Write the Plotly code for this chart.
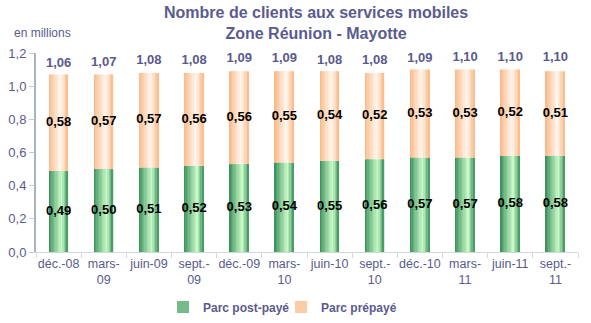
import plotly.graph_objects as go

categories = ["déc.-08", "mars-<br>09", "juin-09", "sept.-<br>09", "déc.-09", "mars-<br>10",
              "juin-10", "sept.-<br>10", "déc.-10", "mars-<br>11", "juin-11", "sept.-<br>11"]
postpaid = [0.49, 0.50, 0.51, 0.52, 0.53, 0.54, 0.55, 0.56, 0.57, 0.57, 0.58, 0.58]
prepaid = [0.58, 0.57, 0.57, 0.56, 0.56, 0.55, 0.54, 0.52, 0.53, 0.53, 0.52, 0.51]
totals = [1.06, 1.07, 1.08, 1.08, 1.09, 1.09, 1.08, 1.08, 1.09, 1.10, 1.10, 1.10]

BAR_W = 0.42
N = 14

def fmt(v):
    return ("%.2f" % v).replace(".", ",")

def lerp(c1, c2, t):
    return "rgb(%d,%d,%d)" % tuple(round(a + (b - a) * t) for a, b in zip(c1, c2))

def profile(t, peak):
    if t <= peak:
        return t / peak
    return (1 - t) / (1 - peak)

green_dark = (48, 136, 84)
green_light = (200, 250, 200)
orange_dark = (250, 180, 125)
orange_light = (255, 246, 238)

fig = go.Figure()

def add_gradient(values, base, dark, light, peak, name, legend_idx, legend_id):
    for i in range(N):
        t = (i + 0.5) / N
        p = profile(t, peak) ** 0.8
        col = lerp(dark, light, p)
        fig.add_trace(go.Bar(
            x=categories, y=values, base=base,
            offset=-BAR_W / 2 + i * BAR_W / N,
            width=BAR_W / N * 1.15 if i < N - 1 else BAR_W / N,
            marker=dict(color=col, line=dict(width=0)),
            name=name, legendgroup=name, legend=legend_id,
            showlegend=(i == legend_idx),
            hoverinfo="skip",
        ))

add_gradient(postpaid, None, green_dark, green_light, 0.68, "Parc post-payé", 3, "legend")
add_gradient(prepaid, postpaid, orange_dark, orange_light, 0.62, "Parc prépayé", 2, "legend2")

inner_font = dict(family="Liberation Sans", size=13, color="#000000", weight="bold")
fig.add_trace(go.Scatter(
    x=categories, y=[v / 2 for v in postpaid], mode="text",
    text=[fmt(v) for v in postpaid], textposition="middle center",
    textfont=inner_font, showlegend=False, hoverinfo="skip", cliponaxis=False))
fig.add_trace(go.Scatter(
    x=categories, y=[a + b / 2 for a, b in zip(postpaid, prepaid)], mode="text",
    text=[fmt(v) for v in prepaid], textposition="middle center",
    textfont=inner_font, showlegend=False, hoverinfo="skip", cliponaxis=False))
fig.add_trace(go.Scatter(
    x=categories, y=[t + 0.035 for t in totals], mode="text",
    text=[fmt(v) for v in totals], textposition="top center",
    textfont=dict(family="Liberation Sans", size=13, color="#5a5a8c", weight="bold"),
    showlegend=False, hoverinfo="skip", cliponaxis=False))

legend_common = dict(
    orientation="h", xref="container", yref="container", xanchor="left",
    y=1 - 307 / 323, yanchor="middle",
    font=dict(family="Liberation Sans", size=12, color="#5a5a8c", weight="bold"),
    itemwidth=30, bgcolor="rgba(0,0,0,0)",
)

fig.update_layout(
    width=591, height=323,
    barmode="overlay",
    separators=", ",
    plot_bgcolor="white", paper_bgcolor="white",
    margin=dict(l=36, r=13, t=53, b=71, autoexpand=False),
    font=dict(family="Liberation Sans", color="#5a5a8c", size=13),
    legend=dict(x=163 / 591, **legend_common),
    legend2=dict(x=281 / 591, **legend_common),
    xaxis=dict(
        type="category", showline=True, linecolor="#d2d9dd", linewidth=1,
        ticks="outside", tickson="boundaries", ticklen=5, tickcolor="#d2d9dd",
        showgrid=False, tickangle=0, tickfont=dict(size=12.5, color="#5a5a8c"),
        range=[-0.5, 11.5], automargin=False,
    ),
    yaxis=dict(
        range=[0, 1.2], dtick=0.2, tickformat=".1f", showline=True,
        linecolor="#a9b5bd", linewidth=2, ticks="outside", ticklen=5,
        tickcolor="#c5cdd2", showgrid=False, zeroline=False,
        tickfont=dict(size=13, color="#5a5a8c"), automargin=False,
    ),
    annotations=[
        dict(
            text="<b>Nombre de clients aux services mobiles<br>Zone Réunion - Mayotte</b>",
            xref="paper", yref="paper",
            x=(316 - 36) / 542, y=(252 - 2) / 199, xanchor="center", yanchor="top",
            showarrow=False, align="center",
            font=dict(family="Liberation Sans", size=16, color="#5b5b8f"),
        ),
        dict(
            text="en millions", xref="paper", yref="paper",
            x=(12 - 36) / 542, y=(252 - 33) / 199, xanchor="left", yanchor="middle",
            showarrow=False, font=dict(family="Liberation Sans", size=12, color="#5a5a8c"),
        ),
    ],
)

fig.write_html("out.html")
